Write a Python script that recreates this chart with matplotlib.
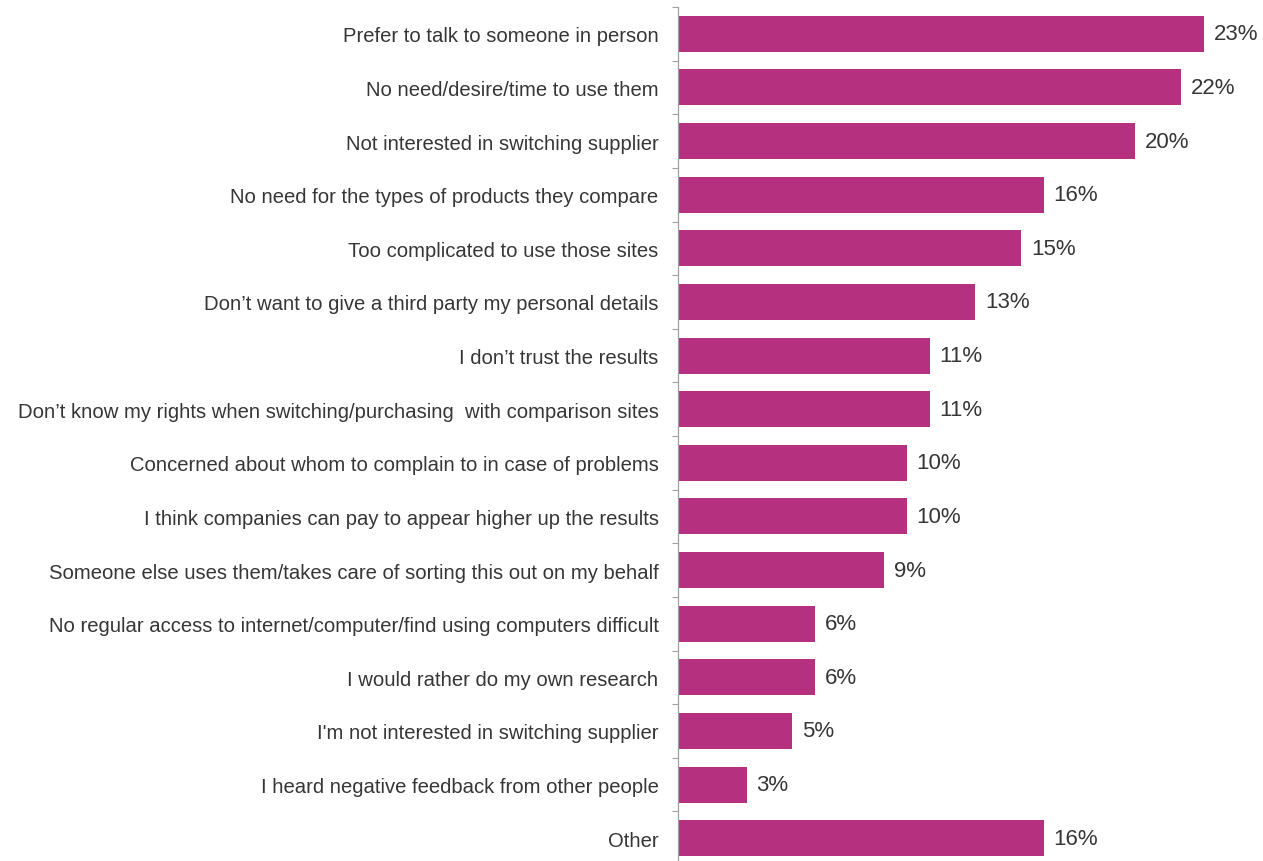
import matplotlib
matplotlib.use("Agg")
import matplotlib.pyplot as plt
from matplotlib.ticker import FixedLocator

categories = [
    "Prefer to talk to someone in person",
    "No need/desire/time to use them",
    "Not interested in switching supplier",
    "No need for the types of products they compare",
    "Too complicated to use those sites",
    "Don\u2019t want to give a third party my personal details",
    "I don\u2019t trust the results",
    "Don\u2019t know my rights when switching/purchasing  with comparison sites",
    "Concerned about whom to complain to in case of problems",
    "I think companies can pay to appear higher up the results",
    "Someone else uses them/takes care of sorting this out on my behalf",
    "No regular access to internet/computer/find using computers difficult",
    "I would rather do my own research",
    "I'm not interested in switching supplier",
    "I heard negative feedback from other people",
    "Other",
]
values = [23, 22, 20, 16, 15, 13, 11, 11, 10, 10, 9, 6, 6, 5, 3, 16]
value_labels = [f"{v}%" for v in values]

plt.rcParams['font.family'] = ['Liberation Sans', 'DejaVu Sans']

W, H = 1263, 862
fig = plt.figure(figsize=(W / 100, H / 100), dpi=100)
left_px, right_px, top_px, bottom_px = 678, 1263, 8, 866
ax = fig.add_axes([left_px / W, 1 - bottom_px / H,
                   (right_px - left_px) / W, (bottom_px - top_px) / H])

pos = list(range(len(categories)))
ax.barh(pos, values, height=0.67, color="#B5307F", edgecolor="none")
ax.set_xlim(0, (right_px - left_px) / 22.87)
ax.set_ylim(len(categories) - 0.5, -0.5)

for p, v, lab in zip(pos, values, value_labels):
    ax.annotate(lab, (v, p), xytext=(7, 0), textcoords="offset points",
                va="center", ha="left", fontsize=16, color="#363636")

ax.set_yticks(pos)
ax.set_yticklabels(categories, fontsize=14.6, color="#363636")
ax.tick_params(axis="y", which="major", length=0, pad=14)
ax.yaxis.set_minor_locator(FixedLocator([i - 0.5 for i in range(len(categories) + 1)]))
ax.tick_params(axis="y", which="minor", length=4, width=0.8, color="#A0A0A0", direction="out")
ax.set_xticks([])

for s in ["top", "right", "bottom"]:
    ax.spines[s].set_visible(False)
ax.spines["left"].set_color("#A0A0A0")
ax.spines["left"].set_linewidth(0.9)

fig.savefig("out.png", dpi=100)
